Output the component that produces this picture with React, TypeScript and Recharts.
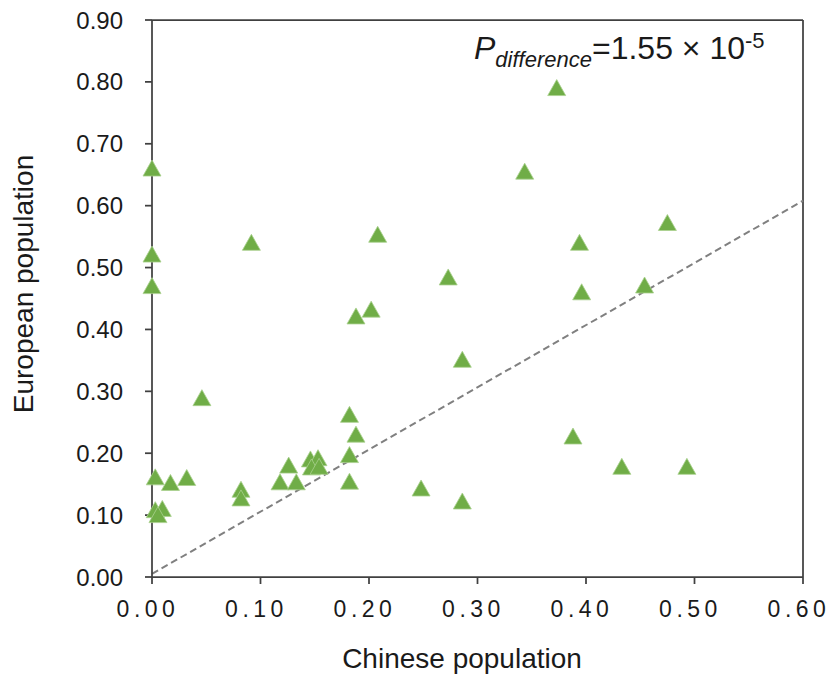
import { ScatterChart, Scatter, XAxis, YAxis, ReferenceLine, Customized } from 'recharts'

// Chinese (x) vs European (y) population frequencies
const chinese = [
  0.0, 0.0, 0.0, 0.0916, 0.046, 0.003, 0.017, 0.032, 0.003, 0.0095,
  0.0055, 0.082, 0.082, 0.126, 0.118, 0.133, 0.146, 0.153, 0.147, 0.154,
  0.182, 0.182, 0.188, 0.182, 0.188, 0.202, 0.208, 0.248, 0.286, 0.286,
  0.273, 0.3435, 0.373, 0.394, 0.396, 0.388, 0.433, 0.454, 0.475, 0.493,
]
const european = [
  0.66, 0.521, 0.47, 0.54, 0.289, 0.161, 0.152, 0.16, 0.108, 0.11,
  0.1, 0.141, 0.127, 0.18, 0.153, 0.153, 0.19, 0.192, 0.177, 0.178,
  0.197, 0.154, 0.23, 0.262, 0.421, 0.432, 0.553, 0.143, 0.122, 0.351,
  0.484, 0.655, 0.79, 0.54, 0.46, 0.227, 0.178, 0.471, 0.572, 0.178,
]
const xTicks = [0, 0.1, 0.2, 0.3, 0.4, 0.5, 0.6]
const yTicks = [0, 0.1, 0.2, 0.3, 0.4, 0.5, 0.6, 0.7, 0.8, 0.9]
const fitLine = [
  { x: 0, y: 0.005 },
  { x: 0.6, y: 0.608 },
]

const points = chinese.map((x, i) => ({ x, y: european[i] }))

const FONT = '"Liberation Sans", Arial, sans-serif'
const AXIS = '#404040'
const GREEN = '#70AD47'

function Triangle({ cx, cy }: any) {
  if (cx == null || cy == null) return null
  const pts = `${cx},${cy - 8.5} ${cx - 9},${cy + 7.5} ${cx + 9},${cy + 7.5}`
  return <polygon points={pts} fill={GREEN} stroke="#a9d18e" strokeWidth={0.8} />
}

function XTick({ x, y, payload }: any) {
  return (
    <text x={x} y={y} dy="0.71em" dx={-4} textAnchor="middle" fontSize={23}
      letterSpacing={4.5} fill="#1a1a1a" fontFamily={FONT}>
      {payload.value.toFixed(2)}
    </text>
  )
}

function YTick({ x, y, payload }: any) {
  return (
    <text x={x} y={y} dy="0.355em" textAnchor="end" fontSize={24}
      fill="#1a1a1a" fontFamily={FONT}>
      {payload.value.toFixed(2)}
    </text>
  )
}

function Titles() {
  return (
    <g fontFamily={FONT} fill="#1a1a1a">
      <text x={462} y={668} textAnchor="middle" fontSize={28}>Chinese population</text>
      <text x={33} y={284} textAnchor="middle" fontSize={28} transform="rotate(-90, 33, 284)">
        European population
      </text>
      <text x={474} y={59} fontSize={32}>
        <tspan fontStyle="italic">P</tspan>
        <tspan fontStyle="italic" fontSize={22} dy={7.5}>difference</tspan>
        <tspan dy={-7.5}>=1.55 × 10</tspan>
        <tspan fontSize={22} dy={-11}>-5</tspan>
      </text>
    </g>
  )
}

export default function App() {
  return (
    <>
      <style>{'body{margin:0}'}</style>
      <ScatterChart width={830} height={677} margin={{ top: 20, right: 27, left: 0, bottom: 0 }}>
        <XAxis
          type="number"
          dataKey="x"
          domain={[0, 0.6]}
          ticks={xTicks}
          height={100}
          tickSize={7}
          tickMargin={17}
          tick={<XTick />}
          axisLine={{ stroke: AXIS, strokeWidth: 1.75 }}
          tickLine={{ stroke: AXIS, strokeWidth: 1.75 }}
        />
        <YAxis
          type="number"
          dataKey="y"
          domain={[0, 0.9]}
          ticks={yTicks}
          width={152}
          tickSize={7}
          tickMargin={22}
          tick={<YTick />}
          axisLine={{ stroke: AXIS, strokeWidth: 1.75 }}
          tickLine={{ stroke: AXIS, strokeWidth: 1.75 }}
        />
        <ReferenceLine y={0.9} stroke={AXIS} strokeWidth={1.75} />
        <ReferenceLine x={0.6} stroke={AXIS} strokeWidth={1.75} />
        <ReferenceLine
          segment={fitLine}
          stroke="#808080"
          strokeWidth={2}
          strokeDasharray="7 4"
          ifOverflow="visible"
        />
        <Scatter data={points} shape={<Triangle />} isAnimationActive={false} />
        <Customized component={Titles} />
      </ScatterChart>
    </>
  )
}
